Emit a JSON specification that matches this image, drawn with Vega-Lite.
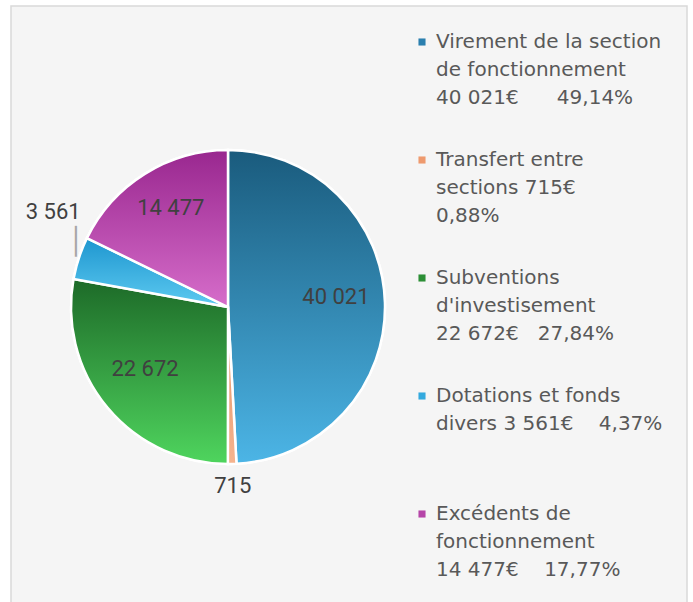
{
  "$schema": "https://vega.github.io/schema/vega-lite/v6.json",
  "width": 676,
  "height": 600,
  "padding": {"left": 10, "top": 5, "right": 7, "bottom": 0},
  "background": "white",
  "config": {
    "view": {"stroke": null},
    "locale": {"number": {"decimal": ",", "thousands": "\u00a0", "grouping": [3], "currency": ["", "\u00a0€"]}},
    "style": {"guide-label": {"lineHeight": 28}}
  },
  "data": {
    "values": [
      {"categorie": "Virement de la section de fonctionnement", "valeur": 40021, "legende": "Virement de la section|de fonctionnement|40\u00a0021€\u00a0\u00a0\u00a0\u00a0\u00a0\u00a049,14%"},
      {"categorie": "Transfert entre sections", "valeur": 715, "legende": "Transfert entre|sections 715€|0,88%"},
      {"categorie": "Subventions d'investisement", "valeur": 22672, "legende": "Subventions|d'investisement|22\u00a0672€\u00a0\u00a0\u00a027,84%"},
      {"categorie": "Dotations et fonds divers", "valeur": 3561, "legende": "Dotations et fonds|divers 3\u00a0561€\u00a0\u00a0\u00a0\u00a04,37%|\u00a0"},
      {"categorie": "Excédents de fonctionnement", "valeur": 14477, "legende": "Excédents de|fonctionnement|14\u00a0477€\u00a0\u00a0\u00a0\u00a017,77%"}
    ]
  },
  "transform": [{"window": [{"op": "row_number", "as": "rang"}]}],
  "layer": [
    {
      "data": {"values": [{}]},
      "mark": {"type": "rect", "fill": "#f5f5f5", "stroke": "#d9d9d9", "strokeWidth": 1.5},
      "encoding": {}
    },
    {
      "mark": {"type": "arc", "outerRadius": 157, "x": 217, "y": 301, "stroke": "white", "strokeWidth": 2.5},
      "encoding": {
        "theta": {"field": "valeur", "type": "quantitative", "stack": true},
        "order": {"field": "rang", "type": "quantitative"},
        "color": {
          "field": "legende", "type": "nominal", "sort": null,
          "scale": {"range": ["#2a7fae", "#ee9a6e", "#2c8f36", "#33a9de", "#b545a8"]},
          "legend": {
            "title": null, "orient": "none", "legendX": 401, "legendY": 26,
            "symbolType": "square", "symbolSize": 50, "symbolStrokeWidth": 0,
            "labelFont": "DejaVu Sans", "labelFontSize": 20, "labelColor": "#595959",
            "labelLimit": 400, "labelOffset": 4, "rowPadding": 42, "padding": 0,
            "labelExpr": "split(datum.label, '|')"
          }
        }
      }
    },
    {
      "mark": {"type": "arc", "outerRadius": 157, "x": 217, "y": 301, "stroke": "white", "strokeWidth": 2.5},
      "encoding": {
        "theta": {"field": "valeur", "type": "quantitative", "stack": true},
        "order": {"field": "rang", "type": "quantitative"},
        "fill": {
          "condition": [
            {"test": "datum.rang == 1", "value": {"gradient": "linear", "x1": 0, "y1": 0, "x2": 0, "y2": 1, "stops": [{"offset": 0, "color": "#1a5b7d"}, {"offset": 1, "color": "#4cb5e6"}]}},
            {"test": "datum.rang == 2", "value": {"gradient": "linear", "x1": 0, "y1": 0, "x2": 0, "y2": 1, "stops": [{"offset": 0, "color": "#e48e60"}, {"offset": 1, "color": "#f5b48f"}]}},
            {"test": "datum.rang == 3", "value": {"gradient": "linear", "x1": 0, "y1": 0, "x2": 0, "y2": 1, "stops": [{"offset": 0, "color": "#1d6a28"}, {"offset": 1, "color": "#4fd55e"}]}},
            {"test": "datum.rang == 4", "value": {"gradient": "linear", "x1": 0, "y1": 0, "x2": 0, "y2": 1, "stops": [{"offset": 0, "color": "#1e96cf"}, {"offset": 1, "color": "#5dcaf1"}]}},
            {"test": "datum.rang == 5", "value": {"gradient": "linear", "x1": 0, "y1": 0, "x2": 0, "y2": 1, "stops": [{"offset": 0, "color": "#99278f"}, {"offset": 1, "color": "#d66dca"}]}}
          ],
          "value": "#cccccc"
        }
      }
    },
    {
      "mark": {"type": "text", "radius": 108, "dy": -7, "x": 217, "y": 301, "font": "Roboto", "fontSize": 22, "color": "#404040"},
      "encoding": {
        "theta": {"field": "valeur", "type": "quantitative", "stack": true},
        "order": {"field": "rang", "type": "quantitative"},
        "text": {"field": "valeur", "type": "quantitative", "format": ","},
        "opacity": {"condition": {"test": "datum.valeur < 4000", "value": 0}, "value": 1}
      }
    },
    {
      "mark": {"type": "text", "radius": 179, "x": 217, "y": 301, "font": "Roboto", "fontSize": 22, "color": "#404040"},
      "encoding": {
        "theta": {"field": "valeur", "type": "quantitative", "stack": true},
        "order": {"field": "rang", "type": "quantitative"},
        "text": {"field": "valeur", "type": "quantitative", "format": ","},
        "opacity": {"condition": {"test": "datum.rang == 2", "value": 1}, "value": 0}
      }
    },
    {
      "mark": {"type": "text", "radius": 184, "dy": -38, "x": 217, "y": 301, "font": "Roboto", "fontSize": 22, "color": "#404040"},
      "encoding": {
        "theta": {"field": "valeur", "type": "quantitative", "stack": true},
        "order": {"field": "rang", "type": "quantitative"},
        "text": {"field": "valeur", "type": "quantitative", "format": ","},
        "opacity": {"condition": {"test": "datum.rang == 4", "value": 1}, "value": 0}
      }
    },
    {
      "mark": {"type": "text", "radius": 160, "dy": -15, "x": 217, "y": 301, "font": "DejaVu Sans Mono", "fontSize": 26, "color": "#a6a6a6"},
      "encoding": {
        "theta": {"field": "valeur", "type": "quantitative", "stack": true},
        "order": {"field": "rang", "type": "quantitative"},
        "text": {"value": "│"},
        "opacity": {"condition": {"test": "datum.rang == 4", "value": 1}, "value": 0}
      }
    }
  ]
}
